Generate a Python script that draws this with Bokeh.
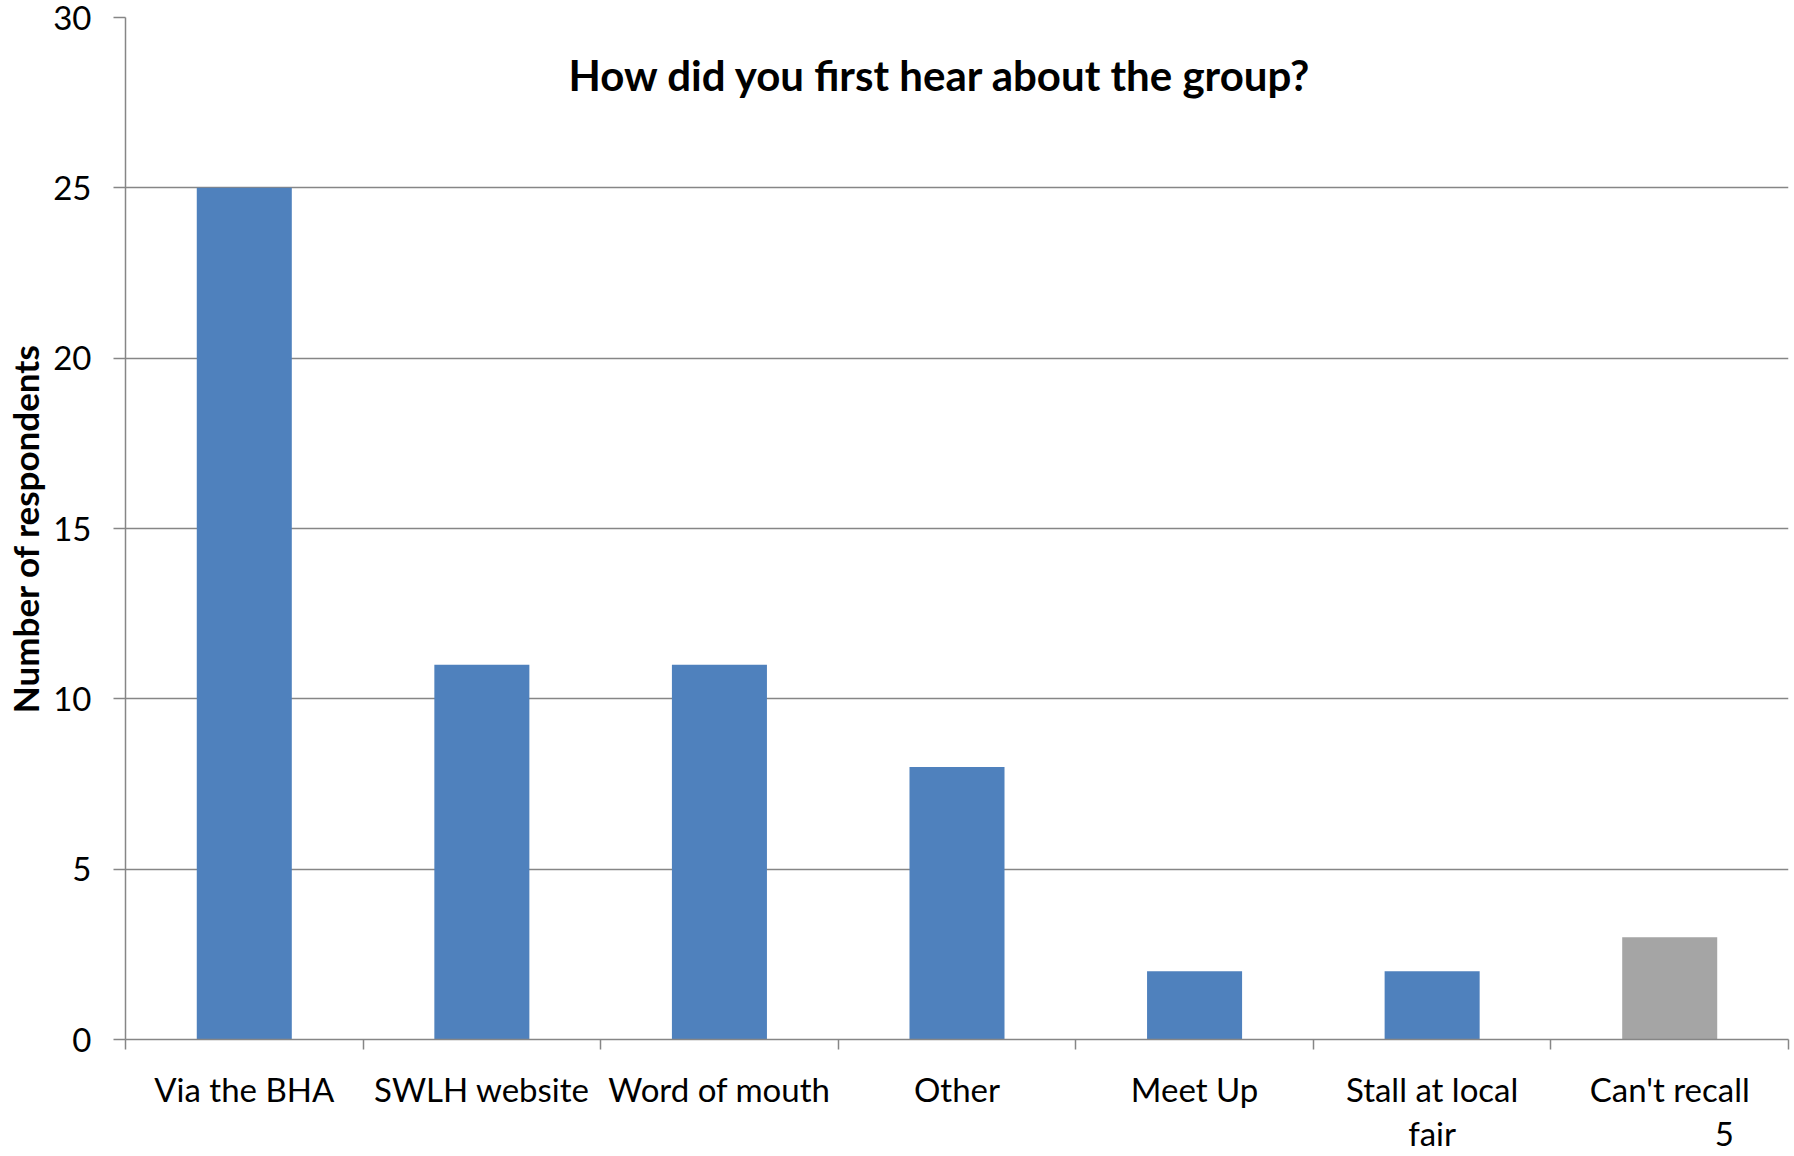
from bokeh.plotting import figure
from bokeh.models import (Range1d, LinearAxis, FixedTicker, Label, ColumnDataSource)
from bokeh.embed import file_html
from bokeh.resources import INLINE

# ---- data ----
categories = ["Via the BHA", "SWLH website", "Word of mouth", "Other",
              "Meet Up", "Stall at local fair", "Can't recall"]
respondents = [25, 11, 11, 8, 2, 2, 3]
y_ticks = [0, 5, 10, 15, 20, 25, 30]
title_text = "How did you first hear about the group?"
y_label = "Number of respondents"
page_number = "5"

BLUE = "#4F81BD"
GREY_BAR = "#A5A5A5"
AXIS = "#868686"
FONT = "Lato"

n = len(categories)
centers = [i + 0.5 for i in range(n)]
edges = list(range(n + 1))
page_number_x = n - 0.27          # layout position of the slide page number
colors = [GREY_BAR if c == "Can't recall" else BLUE for c in categories]
src = ColumnDataSource(dict(x=centers, val=respondents, color=colors))

p = figure(width=1794, height=1156,
           x_range=Range1d(0, n), y_range=Range1d(0, 30),
           output_backend="svg", toolbar_location=None,
           x_axis_location=None,
           min_border_left=125, min_border_right=6,
           min_border_top=17, min_border_bottom=111)
p.outline_line_color = None
p.background_fill_color = "white"
p.border_fill_color = "white"

p.vbar(x="x", top="val", width=0.4, bottom=0, source=src,
       fill_color="color", line_color=None)

# y axis
ya = p.yaxis[0]
ya.ticker = FixedTicker(ticks=y_ticks)
ya.major_tick_out = 12
ya.major_tick_in = 0
ya.minor_tick_line_color = None
ya.axis_line_color = AXIS
ya.axis_line_width = 1.5
ya.major_tick_line_color = AXIS
ya.major_tick_line_width = 1.5
ya.major_label_text_font = FONT
ya.major_label_text_font_size = "33px"
ya.major_label_text_color = "black"
ya.major_label_standoff = 22
ya.axis_label = y_label
ya.axis_label_text_font = FONT
ya.axis_label_text_font_style = "bold"
ya.axis_label_text_font_size = "35px"
ya.axis_label_text_color = "black"
ya.axis_label_standoff = 4

p.ygrid.ticker = FixedTicker(ticks=y_ticks)
p.ygrid.grid_line_color = AXIS
p.ygrid.grid_line_width = 1.5
p.xgrid.grid_line_color = None

# x edge-tick axis (ticks between categories)
ea = LinearAxis(ticker=FixedTicker(ticks=edges))
ea.major_label_text_font_size = "0px"
ea.major_label_text_color = None
ea.major_label_standoff = 0
ea.major_tick_out = 10
ea.major_tick_in = 0
ea.minor_tick_line_color = None
ea.axis_line_color = AXIS
ea.axis_line_width = 1.5
ea.major_tick_line_color = AXIS
ea.major_tick_line_width = 1.5
p.add_layout(ea, "below")

# category labels (plus the slide page number on the second text line)
label_map = {c: c for c in categories}
label_map["Stall at local fair"] = "Stall at local\nfair"
overrides = {x: label_map[c] for x, c in zip(centers, categories)}
overrides[page_number_x] = "\n" + page_number
ca = LinearAxis(ticker=FixedTicker(ticks=centers + [page_number_x]))
ca.major_label_overrides = overrides
ca.axis_line_color = None
ca.major_tick_line_color = None
ca.minor_tick_line_color = None
ca.major_label_text_font = FONT
ca.major_label_text_font_size = "33px"
ca.major_label_text_color = "black"
ca.major_label_standoff = 13
ca.major_label_text_line_height = 1.12
p.add_layout(ca, "below")

# title inside the plot area
p.add_layout(Label(x=3.43, y=28.3,
                   text=title_text, text_align="center", text_baseline="middle",
                   text_font=FONT, text_font_style="bold",
                   text_font_size="42px", text_color="black"))

open("out.html", "w").write(file_html(p, INLINE))
